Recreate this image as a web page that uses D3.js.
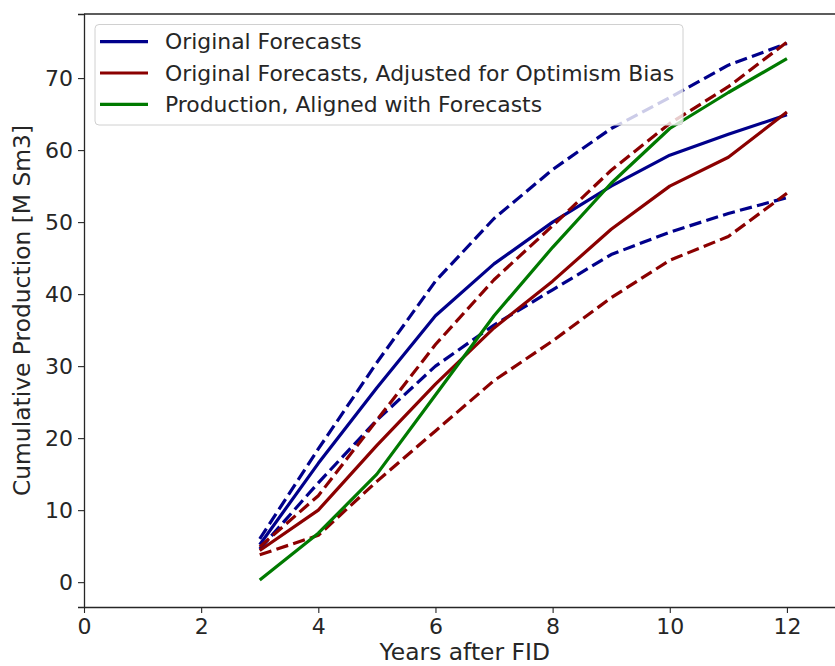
<!DOCTYPE html>
<html lang="en">
<head>
    <meta charset="UTF-8">
    <title>Cumulative Production</title>
    <script src="https://cdnjs.cloudflare.com/ajax/libs/d3/7.8.5/d3.min.js"></script>
    <style>
        body { margin: 0; background: #fff; }
        text { font-family: "DejaVu Sans", sans-serif; fill: #262626; }
    </style>
</head>
<body>
<svg id="chart" width="835" height="666"></svg>
<script>
    // data
    var years = [3, 4, 5, 6, 7, 8, 9, 10, 11, 12];
    var origForecast = [5.2, 16.5, 27, 37, 44.2, 50, 55, 59.3, 62.2, 64.9];
    var origHigh     = [6, 18.5, 30.5, 41.8, 50.5, 57.3, 63, 67.3, 71.8, 74.8];
    var origLow      = [4.6, 13.8, 22.5, 30, 35.7, 40.6, 45.5, 48.6, 51.2, 53.4];
    var adjForecast  = [4.4, 10, 19, 27.5, 35.3, 41.8, 49, 55, 59, 65.3];
    var adjHigh      = [4.9, 12, 22.5, 33, 42, 49.5, 57.2, 63.7, 68.8, 75];
    var adjLow       = [3.8, 6.5, 14, 21, 28, 33.5, 39.5, 44.7, 48, 54];
    var production   = [0.3, 6.8, 15, 26, 37, 46.5, 55.4, 63, 68, 72.7];

    var xTicks = [0, 2, 4, 6, 8, 10, 12];
    var yTicks = [0, 10, 20, 30, 40, 50, 60, 70];
    var legendLabels = ["Original Forecasts",
        "Original Forecasts, Adjusted for Optimism Bias",
        "Production, Aligned with Forecasts"];

    var blue = "#00008b", red = "#8b0000", green = "#007a00";

    var svg = d3.select("#chart");
    var margin = {left: 84, top: 14, bottom: 607};

    var x = d3.scaleLinear().domain([0, 13]).range([margin.left, 845.5]);
    var y = d3.scaleLinear().domain([-3.45, 78.9]).range([margin.bottom, margin.top]);

    // series list: values, colour, dashed?
    var series = [
        {v: origForecast, c: blue, dash: false},
        {v: origHigh, c: blue, dash: true},
        {v: origLow, c: blue, dash: true},
        {v: adjForecast, c: red, dash: false},
        {v: adjHigh, c: red, dash: true},
        {v: adjLow, c: red, dash: true},
        {v: production, c: green, dash: false}
    ];

    var line = d3.line()
        .x(function(d) { return x(d[0]); })
        .y(function(d) { return y(d[1]); });

    svg.append("g")
        .selectAll("path")
        .data(series)
        .enter()
        .append("path")
        .attr("d", function(s) { return line(d3.zip(years, s.v)); })
        .attr("fill", "none")
        .attr("stroke", function(s) { return s.c; })
        .attr("stroke-width", 3.2)
        .attr("stroke-linejoin", "round")
        .attr("stroke-dasharray", function(s) { return s.dash ? "12.3,5.3" : null; });

    // axes
    var xAxis = svg.append("g")
        .attr("transform", "translate(0," + margin.bottom + ")")
        .call(d3.axisBottom(x).tickValues(xTicks).tickSize(6).tickPadding(5));
    var yAxis = svg.append("g")
        .attr("transform", "translate(" + margin.left + ",0)")
        .call(d3.axisLeft(y).tickValues(yTicks).tickSize(6).tickPadding(5));

    [xAxis, yAxis].forEach(function(a) {
        a.select(".domain").attr("stroke", "#262626").attr("stroke-width", 1.3);
        a.selectAll(".tick line").attr("stroke", "#262626").attr("stroke-width", 1.1);
        a.selectAll(".tick text").style("font-size", "22px").attr("fill", "#262626");
    });
    xAxis.select(".domain").attr("d", "M" + margin.left + ",0.5H835");

    // top spine
    svg.append("line")
        .attr("x1", margin.left).attr("x2", 835)
        .attr("y1", margin.top).attr("y2", margin.top)
        .attr("stroke", "#262626").attr("stroke-width", 1.3);

    // axis labels
    svg.append("text")
        .attr("x", (margin.left + 845.5) / 2)
        .attr("y", 660)
        .attr("text-anchor", "middle")
        .style("font-size", "23.4px")
        .text("Years after FID");

    svg.append("text")
        .attr("transform", "translate(30," + ((margin.top + margin.bottom) / 2) + ") rotate(-90)")
        .attr("text-anchor", "middle")
        .style("font-size", "23.4px")
        .text("Cumulative Production [M Sm3]");

    // legend
    var legend = svg.append("g");
    legend.append("rect")
        .attr("x", 95).attr("y", 24.5)
        .attr("width", 588).attr("height", 100.5)
        .attr("rx", 4)
        .attr("fill", "#fff").attr("fill-opacity", 0.8)
        .attr("stroke", "#d0d0d0");
    var legendColors = [blue, red, green];
    var rows = legend.selectAll("g.row")
        .data(legendLabels)
        .enter()
        .append("g")
        .attr("class", "row")
        .attr("transform", function(d, i) { return "translate(0," + (41.7 + i * 31.3) + ")"; });
    rows.append("line")
        .attr("x1", 100).attr("x2", 148)
        .attr("stroke", function(d, i) { return legendColors[i]; })
        .attr("stroke-width", 3.2);
    rows.append("text")
        .attr("x", 165).attr("dy", "0.35em")
        .style("font-size", "21.9px")
        .text(function(d) { return d; });
</script>
</body>
</html>
